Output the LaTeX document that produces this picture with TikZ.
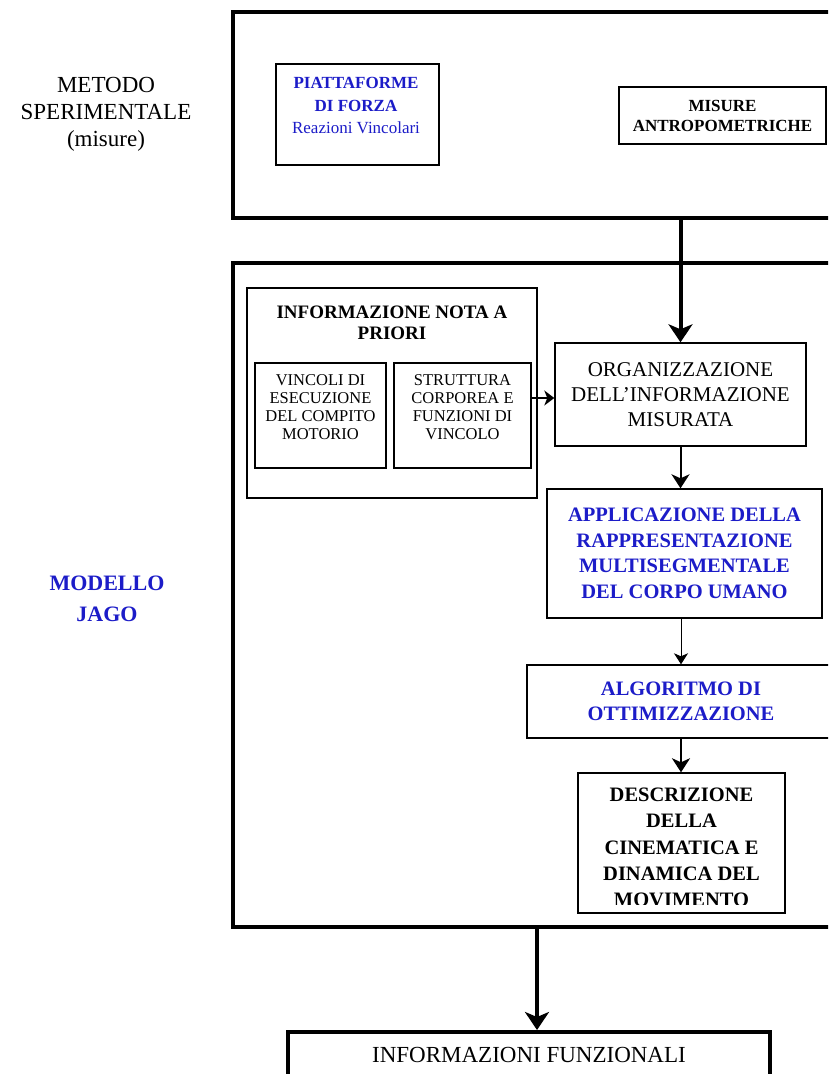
\documentclass[tikz,border=0pt]{standalone}
\usepackage{fontspec}
\setmainfont{Liberation Serif}
\usetikzlibrary{arrows.meta}
\definecolor{jblue}{RGB}{28,28,200}
\tikzset{
  bigframe/.style={draw, line width=4pt, inner sep=0pt},
  box/.style={draw, line width=1.4pt, inner sep=0pt, align=center},
  lbl/.style={inner sep=0pt, align=center},
  fs/.style 2 args={font=\fontsize{#1}{#2}\selectfont},
  fsb/.style 2 args={font=\fontsize{#1}{#2}\selectfont\bfseries},
  arrbig/.style={line width=4pt, -{Stealth[length=18pt,width=24pt,inset=5pt]}},
  arrmid/.style={line width=2pt, -{Stealth[length=14pt,width=18pt,inset=4pt]}},
  arrside/.style={line width=2pt, -{Stealth[length=10pt,width=15pt,inset=3pt]}},
  arrthin/.style={line width=1pt, -{Stealth[length=11pt,width=14pt,inset=3pt]}},
  arralg/.style={line width=2.5pt, -{Stealth[length=14pt,width=18pt,inset=4pt]}},
}
\begin{document}
\begin{tikzpicture}[x=1pt,y=-1pt]
\useasboundingbox (0,0) rectangle (828,1074);
\fill[white] (0,0) rectangle (828,1074);
\clip (0,0) rectangle (828,1074);

% left labels
\node[lbl, fs={23}{27}] (metodo) at (106,114.5) {METODO\\SPERIMENTALE\\(misure)};
\node[lbl, fsb={22}{31}, text=jblue] (modello) at (107,598.5) {MODELLO\\JAGO};

% big frames
\node[bigframe, minimum width=647pt, minimum height=206pt] (topbox) at (556.5,115) {};
\node[bigframe, minimum width=647pt, minimum height=664pt] (midbox) at (556.5,595) {};

% top frame content
\node[box, minimum width=163pt, minimum height=101pt] (piatt) at (357.5,114.5) {};
\node[lbl, text=jblue, fs={17}{22.5}] (piatttext) at (356,105.5)
  {\textbf{PIATTAFORME}\\\textbf{DI FORZA}\\Reazioni Vincolari};
\node[box, fsb={17}{20}, minimum width=207pt, minimum height=57pt] (misure) at (722.5,115.5)
  {MISURE\\ANTROPOMETRICHE};

% middle frame content
\node[box, minimum width=290pt, minimum height=210pt] (nota) at (392,393) {};
\node[lbl, fsb={19}{21}] (notatext) at (392,322.5) {INFORMAZIONE NOTA A\\PRIORI};
\node[box, minimum width=131pt, minimum height=105pt] (vinc) at (320.5,415.5) {};
\node[lbl, fs={16.5}{18}] (vinctext) at (320.5,407) {VINCOLI DI\\ESECUZIONE\\DEL COMPITO\\MOTORIO};
\node[box, minimum width=137pt, minimum height=105pt] (strut) at (462.5,415.5) {};
\node[lbl, fs={16.5}{18}] (struttext) at (462.5,407) {STRUTTURA\\CORPOREA E\\FUNZIONI DI\\VINCOLO};

\node[box, fs={21}{25}, minimum width=251pt, minimum height=103pt] (org) at (680.5,394.5)
  {ORGANIZZAZIONE\\DELL'INFORMAZIONE\\MISURATA};
\node[box, fsb={20.5}{25.5}, text=jblue, minimum width=275pt, minimum height=129pt] (appl) at (684.5,553.5)
  {APPLICAZIONE DELLA\\RAPPRESENTAZIONE\\MULTISEGMENTALE\\DEL CORPO UMANO};
\node[box, fsb={20.5}{25}, text=jblue, minimum width=308pt, minimum height=73pt] (alg) at (681,701.5)
  {ALGORITMO DI\\OTTIMIZZAZIONE};
\node[box, minimum width=207pt, minimum height=140pt] (desc) at (681.5,843) {};
\begin{scope}
  \clip (578,773) rectangle (785,904);
  \node[lbl, fsb={20.5}{26.25}] (desctext) at (681.5,847.5)
    {DESCRIZIONE\\DELLA\\CINEMATICA E\\DINAMICA DEL\\MOVIMENTO};
\end{scope}

% bottom box
\node[bigframe, fs={23}{27}, minimum width=482pt, minimum height=46pt] (info) at (529,1055)
  {INFORMAZIONI FUNZIONALI};

% connectors
\draw[arrbig] (topbox.south -| org.north) -- (org.north);
\coordinate (sa) at ([yshift=17.5pt]strut.east);
\draw[arrside] (sa) -- (sa -| org.west);
\draw[arrmid] (org.south) -- (org.south |- appl.north);
\draw[arrthin] (alg.north |- appl.south) -- (alg.north);
\draw[arralg] (alg.south) -- (alg.south |- desc.north);
\coordinate (ia) at ([xshift=8pt]info.north);
\draw[arrbig] (ia |- midbox.south) -- (ia);
\end{tikzpicture}
\end{document}
